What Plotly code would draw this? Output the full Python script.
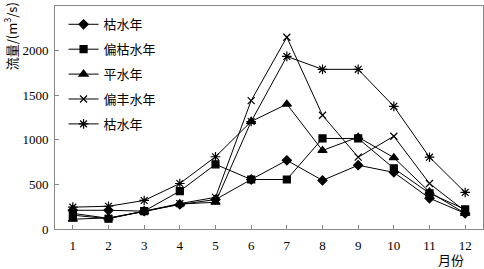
import plotly.graph_objects as go

months = [1, 2, 3, 4, 5, 6, 7, 8, 9, 10, 11, 12]
series_names = ["枯水年", "偏枯水年", "平水年", "偏丰水年", "枯水年"]
dry = [210, 210, 200, 275, 330, 555, 770, 545, 715, 635, 345, 175]
part_dry = [155, 115, 200, 425, 725, 555, 555, 1015, 1015, 680, 400, 220]
normal = [110, 125, 195, 280, 300, 1205, 1400, 880, 1030, 800, 415, 175]
part_wet = [175, 120, 200, 285, 355, 1440, 2150, 1275, 805, 1040, 510, 200]
dry2 = [245, 255, 320, 510, 810, 1205, 1935, 1790, 1790, 1375, 805, 410]
symbols = ["diamond", "square", "triangle-up", "x-thin-open", "asterisk-open"]
sizes = [7, 7, 8, 7, 8]
values = [dry, part_dry, normal, part_wet, dry2]

fig = go.Figure()
for i, (nm, v, s, sz) in enumerate(zip(series_names, values, symbols, sizes)):
    fig.add_trace(go.Scatter(
        x=months, y=v, name=nm, mode="lines+markers",
        legendgroup=f"g{i}",
        line=dict(color="black", width=1),
        marker=dict(symbol=s, size=sz, color="black",
                    line=dict(color="black", width=1.2)),
    ))

serif = "Liberation Serif"
fig.update_layout(
    width=484, height=269,
    margin=dict(l=55, r=1, t=6, b=40),
    paper_bgcolor="white", plot_bgcolor="white",
    font=dict(family=serif, size=12, color="black"),
    showlegend=True,
    legend=dict(x=0.02, y=0.985, xanchor="left", yanchor="top",
                bgcolor="rgba(0,0,0,0)", borderwidth=0,
                font=dict(size=13, family="Noto Sans CJK SC"),
                traceorder="grouped", tracegroupgap=5, itemwidth=30),
    xaxis=dict(range=[0.5, 12.5], tickvals=months, ticks="inside", ticklen=4,
               tickcolor="#888", showline=True, linecolor="#888", linewidth=1,
               mirror=True, showgrid=False, zeroline=False,
               ticklabelstandoff=4,
               tickfont=dict(size=13, family=serif)),
    yaxis=dict(range=[0, 2500], dtick=500, ticks="inside", ticklen=4,
               tickcolor="#888", showline=True, linecolor="#888", linewidth=1,
               mirror=True, showgrid=False, zeroline=False,
               ticklabelstandoff=3,
               tickfont=dict(size=13, family=serif)),
)
fig.add_annotation(text="流量/(m<sup>3</sup>/s)", textangle=-90,
                   xref="paper", yref="paper", x=-0.103, y=1.025,
                   xanchor="center", yanchor="top",
                   showarrow=False, font=dict(size=13, family="Noto Sans CJK SC"))
fig.add_annotation(text="月份", xref="paper", yref="paper", x=0.925, y=-0.138,
                   xanchor="center", yanchor="middle",
                   showarrow=False, font=dict(size=13, family="Noto Sans CJK SC"))
fig.write_html("out.html")
